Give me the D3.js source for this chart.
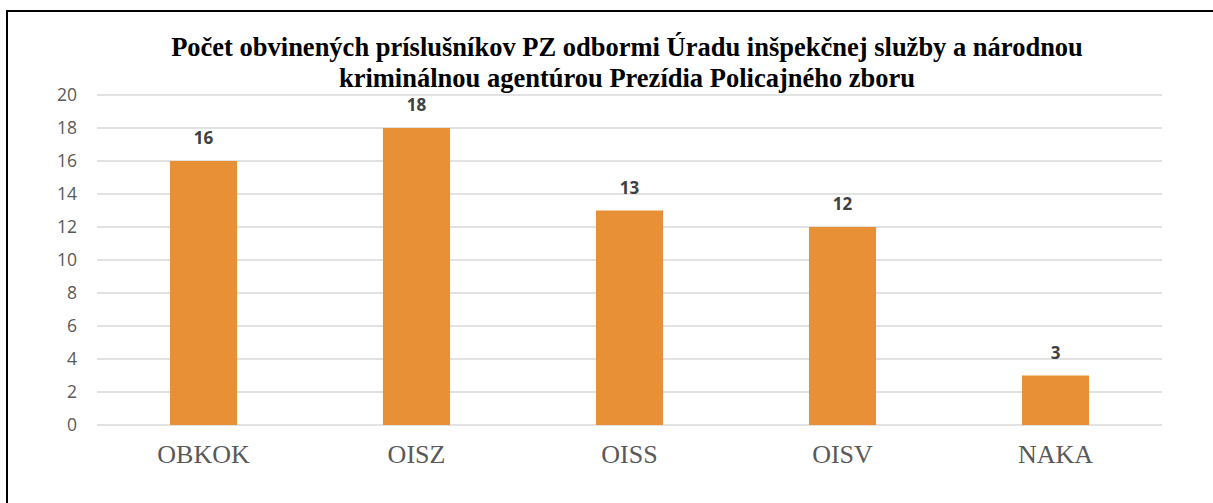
<!DOCTYPE html>
<html>
<head>
<meta charset="utf-8">
<script src="https://cdn.jsdelivr.net/npm/d3@7"></script>
<style>
  body { margin: 0; background: #fff; }
</style>
</head>
<body>
<div id="chart"></div>
<script>
// data
var categories = ["OBKOK", "OISZ", "OISS", "OISV", "NAKA"];
var values = [16, 18, 13, 12, 3];
var yTicks = [0, 2, 4, 6, 8, 10, 12, 14, 16, 18, 20];
var titleLines = [
    "Počet obvinených príslušníkov PZ odbormi Úradu inšpekčnej služby a národnou",
    "kriminálnou agentúrou Prezídia Policajného zboru"
];

var svgWidth = 1213;
var svgHeight = 503;

var margin = { top: 95, bottom: 78, right: 51, left: 97 };
var width = svgWidth - margin.left - margin.right;
var height = svgHeight - margin.top - margin.bottom;

var svg = d3.select("#chart")
    .append("svg")
    .attr("width", svgWidth)
    .attr("height", svgHeight);

// frame, runs off the right and bottom edge like the original
svg.append("rect")
    .attr("x", 7)
    .attr("y", 11)
    .attr("width", 1300)
    .attr("height", 600)
    .attr("fill", "none")
    .attr("stroke", "#000")
    .attr("stroke-width", 2);

svg.append("text")
    .attr("text-anchor", "middle")
    .style("font-family", "'Liberation Serif', 'Times New Roman', serif")
    .style("font-weight", "bold")
    .style("font-size", "26.5px")
    .attr("fill", "#000")
    .selectAll("tspan")
    .data(titleLines)
    .enter()
    .append("tspan")
    .attr("x", 627)
    .attr("y", (d, i) => 56 + i * 31)
    .text(d => d);

var chartGroup = svg.append("g")
    .attr("transform", `translate(${margin.left}, ${margin.top})`);

var xScale = d3.scaleBand()
    .domain(categories)
    .range([0, width])
    .paddingInner(0.685)
    .paddingOuter(0.3425);

var yScale = d3.scaleLinear()
    .domain([0, 20])
    .range([height, 0]);

// gridlines
chartGroup.append("g")
    .selectAll("line")
    .data(yTicks)
    .enter()
    .append("line")
    .attr("x1", 0)
    .attr("x2", width)
    .attr("y1", d => yScale(d))
    .attr("y2", d => yScale(d))
    .attr("stroke", "#d9d9d9")
    .attr("stroke-width", 1.5);

var yAxis = d3.axisLeft(yScale).tickValues(yTicks).tickSize(0).tickPadding(20);
var yAxisG = chartGroup.append("g").call(yAxis);
yAxisG.select(".domain").remove();
yAxisG.selectAll("text")
    .style("font-family", "'Open Sans', 'Liberation Sans', sans-serif")
    .style("font-size", "17.5px")
    .attr("fill", "#595959");

chartGroup.selectAll("rect.bar")
    .data(values)
    .enter()
    .append("rect")
    .classed("bar", true)
    .attr("x", (d, i) => xScale(categories[i]))
    .attr("y", d => yScale(d))
    .attr("width", xScale.bandwidth())
    .attr("height", d => height - yScale(d))
    .attr("fill", "#e89036");

chartGroup.selectAll("text.val")
    .data(values)
    .enter()
    .append("text")
    .classed("val", true)
    .attr("x", (d, i) => xScale(categories[i]) + xScale.bandwidth() / 2)
    .attr("y", d => yScale(d) - 17)
    .attr("text-anchor", "middle")
    .style("font-family", "'Open Sans', 'Liberation Sans', sans-serif")
    .style("font-weight", "bold")
    .style("font-size", "17px")
    .attr("fill", "#404040")
    .text(d => d);

var xAxis = d3.axisBottom(xScale).tickSize(0).tickPadding(20);
var xAxisG = chartGroup.append("g")
    .attr("transform", `translate(0, ${height})`)
    .call(xAxis);
xAxisG.select(".domain").remove();
xAxisG.selectAll("text")
    .style("font-family", "'Liberation Serif', 'Times New Roman', serif")
    .style("font-size", "26px")
    .attr("fill", "#595959");
</script>
</body>
</html>
